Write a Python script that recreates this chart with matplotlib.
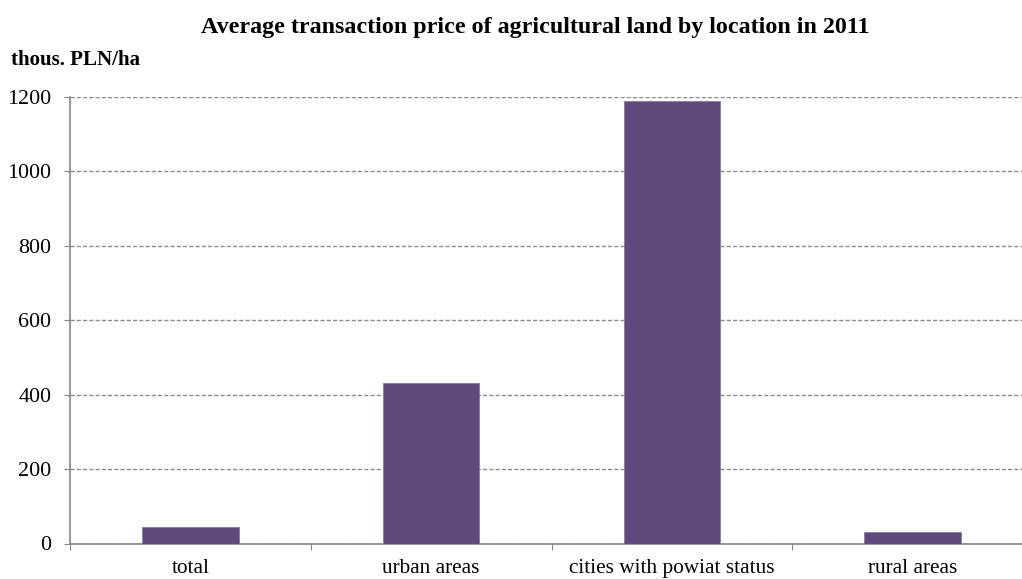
import matplotlib
matplotlib.use("Agg")
import matplotlib.pyplot as plt
import numpy as np

categories = ["total", "urban areas", "cities with powiat status", "rural areas"]
prices = [45, 430, 1188, 32]
y_ticks = [0, 200, 400, 600, 800, 1000, 1200]

plt.rcParams["font.family"] = ["Liberation Serif", "DejaVu Serif"]

W, H = 1022, 579
fig = plt.figure(figsize=(W / 100, H / 100), dpi=100)
left, right = 70 / W, 1033 / W
bottom, top = (H - 543.5) / H, (H - 96.7) / H
ax = fig.add_axes([left, bottom, right - left, top - bottom])

x = np.arange(len(categories))
ax.bar(x, prices, width=0.4, color="#604A7B", edgecolor="#8A78A0", linewidth=0.6, zorder=3)

ax.set_xlim(-0.5, len(categories) - 0.5)
ax.set_ylim(0, 1200)
ax.set_yticks(y_ticks)
ax.set_yticklabels([str(v) for v in y_ticks], fontsize=15.8)
ax.yaxis.grid(True, linestyle=(0, (3, 1.5)), color="#8C8C8C", linewidth=1.0, zorder=0)

# category boundaries as major ticks, labels on minor ticks at bar centres
ax.set_xticks(np.arange(-0.5, len(categories), 1.0))
ax.set_xticklabels([])
ax.set_xticks(x, minor=True)
ax.set_xticklabels(categories, minor=True, fontsize=15.3)
ax.tick_params(axis="x", which="major", length=4, color="#868686", direction="out")
ax.tick_params(axis="x", which="minor", length=0, pad=11.5)
ax.tick_params(axis="y", length=4, color="#868686", pad=9.5)

for s in ["top", "right"]:
    ax.spines[s].set_visible(False)
for s in ["left", "bottom"]:
    ax.spines[s].set_color("#868686")
    ax.spines[s].set_linewidth(1.2)

fig.text(535 / W, (H - 27) / H, "Average transaction price of agricultural land by location in 2011",
         ha="center", va="center", fontsize=17.3, fontweight="bold")
fig.text(11 / W, (H - 60) / H, "thous. PLN/ha", ha="left", va="center",
         fontsize=15.1, fontweight="bold")

fig.savefig("out.png", dpi=100)
